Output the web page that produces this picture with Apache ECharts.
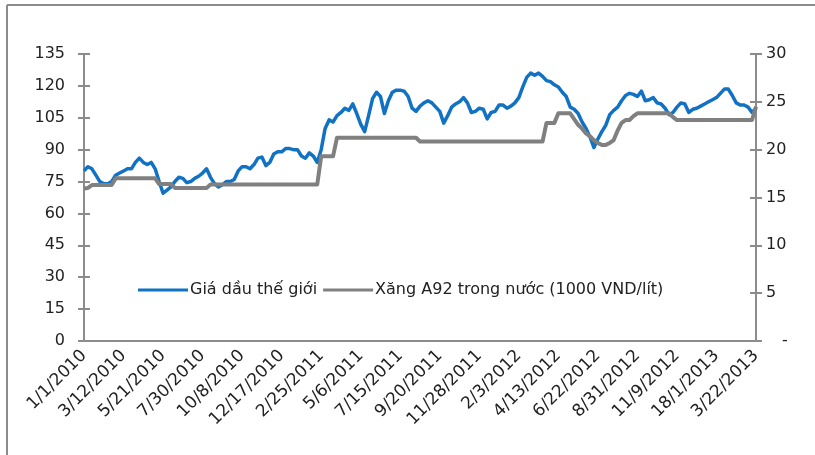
<!DOCTYPE html>
<html>
<head>
<meta charset="utf-8">
<script src="https://cdn.jsdelivr.net/npm/echarts@6/dist/echarts.min.js"></script>
<style>
  html, body { margin: 0; padding: 0; background: #fff; }
  #chart { width: 815px; height: 455px; }
</style>
</head>
<body>
<div id="chart"></div>
<script>
// Weekly tick labels shown every 10th week along the x axis
const tickLabels = ['1/1/2010','3/12/2010','5/21/2010','7/30/2010','10/8/2010','12/17/2010',
  '2/25/2011','5/6/2011','7/15/2011','9/20/2011','11/28/2011','2/3/2012','4/13/2012',
  '6/22/2012','8/31/2012','11/9/2012','18/1/2013','3/22/2013'];

// World crude price (USD/barrel), weekly
const worldOil = [
  80,82,81,78,75,74,74,75,78,79,
  80,81,81,84,86,84,83,84,81,75,
  69.5,71,72.5,75,77,76.5,74.5,75,76.5,77.5,
  79,81,77,74,72.5,73.5,75,75,76,80,
  82,82,81,83,86,86.5,82.5,84,88,89,
  89,90.5,90.5,90,90,87,86,88.5,87,84,
  90,100,104,103,106,107.5,109.5,108.5,111.5,107,
  102,98.5,106,114,117,115,107,113,117,118,
  118,117.5,115,109.5,108,110.5,112,113,112,110,
  108,102.5,106,110,111.5,112.5,114.5,112,107.5,108,
  109.5,109,104.5,107.5,108,111,111,109.5,110.5,112,
  114.5,119.5,124,126,125,126,124.5,122.5,122,120.5,
  119.5,117,115,110,109,107,103,100,96,91,
  95,98.5,101.5,106.5,108.5,110,113,115.5,116.5,116,
  115,117.5,113,113.5,114.5,112,111.5,109.5,106.5,107.5,
  110,112,111.5,107.5,109,109.5,110.5,111.5,112.5,113.5,
  114.5,116.5,118.5,118.5,115.5,112,111,111,110,107.5,
  109.5
];

// Domestic A92 gasoline price (1000 VND/litre), weekly
const a92Price = [
  15.95,16.0,16.3,16.3,16.3,16.3,16.3,16.3,17.0,17.0,
  17.0,17.0,17.0,17.0,17.0,17.0,17.0,17.0,17.0,16.4,
  16.4,16.4,16.4,16.0,16.0,16.0,16.0,16.0,16.0,16.0,
  16.0,16.0,16.35,16.35,16.35,16.35,16.35,16.35,16.35,16.35,
  16.35,16.35,16.35,16.35,16.35,16.35,16.35,16.35,16.35,16.35,
  16.35,16.35,16.35,16.35,16.35,16.35,16.35,16.35,16.35,16.35,
  19.3,19.3,19.3,19.3,21.25,21.25,21.25,21.25,21.25,21.25,
  21.25,21.25,21.25,21.25,21.25,21.25,21.25,21.25,21.25,21.25,
  21.25,21.25,21.25,21.25,21.25,20.85,20.85,20.85,20.85,20.85,
  20.85,20.85,20.85,20.85,20.85,20.85,20.85,20.85,20.85,20.85,
  20.85,20.85,20.85,20.85,20.85,20.85,20.85,20.85,20.85,20.85,
  20.85,20.85,20.85,20.85,20.85,20.85,20.85,22.8,22.8,22.8,
  23.8,23.8,23.8,23.8,23.2,22.6,22.2,21.7,21.4,21.0,
  20.7,20.5,20.5,20.7,21.0,22.0,22.8,23.1,23.1,23.5,
  23.8,23.8,23.8,23.8,23.8,23.8,23.8,23.8,23.8,23.4,
  23.1,23.1,23.1,23.1,23.1,23.1,23.1,23.1,23.1,23.1,
  23.1,23.1,23.1,23.1,23.1,23.1,23.1,23.1,23.1,23.1,
  24.5
];

const seriesNames = ['Giá dầu thế giới', 'Xăng A92 trong nước (1000 VND/lít)'];
const weeks = worldOil.map((_, i) => String(i));

const FONT = 'DejaVu Sans';
const AXIS_GRAY = '#8c8c8c';
const TEXT = '#222';

const chart = echarts.init(document.getElementById('chart'), null, { renderer: 'canvas' });

const baseY = {
  splitLine: { show: false },
  axisLine: { show: true, lineStyle: { color: AXIS_GRAY, width: 2 } },
  axisTick: { show: true, length: 6, lineStyle: { color: AXIS_GRAY, width: 2 } }
};

chart.setOption({
  animation: false,
  backgroundColor: '#fff',
  grid: { left: 84, right: 59, top: 54, bottom: 114, outerBoundsMode: 'none', containLabel: false },
  legend: {
    data: seriesNames.map(n => ({ name: n, icon: 'rect' })),
    left: 133, top: 277,
    itemWidth: 50, itemHeight: 3, itemGap: 6,
    textStyle: { fontFamily: FONT, fontSize: 16, color: TEXT, padding: [0, 0, 0, -3] }
  },
  xAxis: {
    type: 'category',
    data: weeks,
    boundaryGap: false,
    axisLine: { lineStyle: { color: AXIS_GRAY, width: 2 } },
    axisTick: { show: false },
    axisLabel: {
      interval: 9,
      rotate: 45,
      margin: 12,
      fontFamily: FONT, fontSize: 17, color: TEXT,
      formatter: (v, idx) => tickLabels[idx / 10] || ''
    },
    splitLine: { show: false }
  },
  yAxis: [
    Object.assign({}, baseY, {
      type: 'value', position: 'left', min: 0, max: 135, interval: 15,
      axisLabel: { margin: 19, fontFamily: FONT, fontSize: 16, color: TEXT }
    }),
    Object.assign({}, baseY, {
      type: 'value', position: 'right', min: 0, max: 30, interval: 5,
      axisLabel: {
        margin: 10, fontFamily: FONT, fontSize: 16, color: TEXT,
        formatter: v => v === 0 ? '{d|-}' : String(v),
        rich: { d: { fontFamily: FONT, fontSize: 16, color: TEXT, padding: [0, 0, 0, 16] } }
      }
    }),
    // inner half of the crossing tick marks
    {
      type: 'value', position: 'left', min: 0, max: 135, interval: 15,
      axisLine: { show: false }, splitLine: { show: false }, axisLabel: { show: false },
      axisTick: { show: true, inside: true, length: 6, lineStyle: { color: AXIS_GRAY, width: 2 } }
    },
    {
      type: 'value', position: 'right', min: 0, max: 30, interval: 5,
      axisLine: { show: false }, splitLine: { show: false }, axisLabel: { show: false },
      axisTick: { show: true, inside: true, length: 6, lineStyle: { color: AXIS_GRAY, width: 2 } }
    }
  ],
  series: [
    {
      name: seriesNames[0], type: 'line', yAxisIndex: 0, data: worldOil,
      showSymbol: false, symbol: 'none',
      itemStyle: { color: '#1172c4' },
      lineStyle: { color: '#1172c4', width: 3.5, join: 'round' }
    },
    {
      name: seriesNames[1], type: 'line', yAxisIndex: 1, data: a92Price,
      showSymbol: false, symbol: 'none',
      itemStyle: { color: '#808080' },
      lineStyle: { color: '#808080', width: 4, join: 'round' }
    }
  ],
  graphic: [
    { type: 'line', shape: { x1: 7, y1: 5, x2: 815, y2: 5 }, style: { stroke: '#8c8c8c', lineWidth: 2 } },
    { type: 'line', shape: { x1: 7, y1: 5, x2: 7, y2: 455 }, style: { stroke: '#8c8c8c', lineWidth: 2 } }
  ]
});
</script>
</body>
</html>
